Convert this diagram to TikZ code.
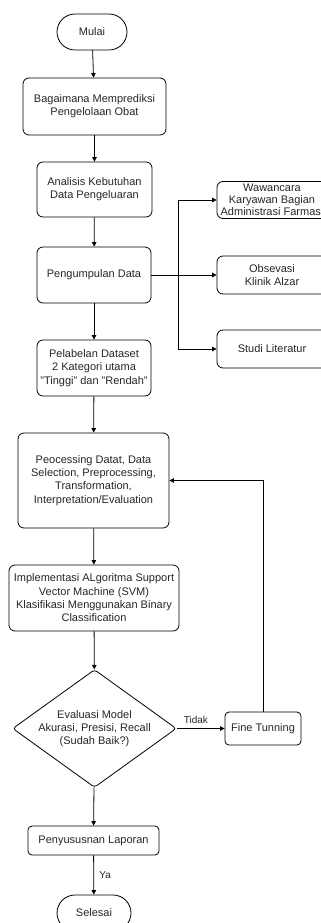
\documentclass[tikz,border=0pt]{standalone}
\usepackage{fontspec}
\setmainfont{Liberation Sans}
\usepackage{tikz}
\usetikzlibrary{arrows.meta,positioning,shapes.geometric,shapes.misc}
\tikzset{
  >={Triangle[length=4.5pt,width=4.5pt]},
  flow/.style ={x=1pt, y=-1pt, line width=0.8pt, font=\fontsize{11}{13.3}\selectfont},
  proc/.style ={draw, rounded corners=6pt, align=center, inner sep=1pt, text=black!85},
  term/.style ={draw, rounded rectangle, align=center, inner sep=1pt, text=black!85},
  dec/.style  ={draw, diamond, aspect=1.39, align=center, inner sep=0pt, text=black!85,
                minimum width=163pt, minimum height=117pt, rounded corners=3pt},
  lbl/.style  ={font=\fontsize{10}{12}\selectfont, text=black!85}
}

\begin{document}
\begin{tikzpicture}[flow]
\useasboundingbox (0,0) rectangle (321,923);
\clip (0,0) rectangle (321,923);
% main column
\node[term, minimum width=72pt, minimum height=36pt] (mulai) at (92,32) {Mulai};
\node[proc, minimum width=143pt, minimum height=57pt] (tanya) at (94.5,106.5)
  {Bagaimana Memprediksi\\Pengelolaan Obat};
\node[proc, minimum width=115pt, minimum height=55pt] (analisis) at (94.5,189.5)
  {Analisis Kebutuhan\\Data Pengeluaran};
\node[proc, minimum width=114pt, minimum height=56pt] (kumpul) at (94,275) {Pengumpulan Data};
\node[proc, minimum width=114pt, minimum height=56pt] (label) at (94,368)
  {Pelabelan Dataset\\2 Kategori utama\\"Tinggi" dan "Rendah"};
\node[proc, minimum width=151pt, minimum height=95pt] (proses) at (93.5,480.5)
  {Peocessing Datat, Data\\Selection, Preprocessing,\\Transformation,\\Interpretation/Evaluation};
\node[proc, minimum width=170pt, minimum height=66pt] (svm) at (94,598)
  {Implementasi ALgoritma Support\\Vector Machine (SVM)\\Klasifikasi Menggunakan Binary\\Classification};
\node[dec] (eval) at (94.5,728.5) {Evaluasi Model\\Akurasi, Presisi, Recall\\(Sudah Baik?)};
\node[proc, rounded corners=4pt, minimum width=131pt, minimum height=29pt] (lapor) at (93.5,840.5)
  {Penyususnan Laporan};
\node[term, minimum width=76pt, minimum height=36pt] (selesai) at (94,913) {Selesai};
% side boxes
\node[proc, minimum width=110pt, minimum height=37pt, font=\fontsize{11}{12}\selectfont] (wawan) at (272,200)
  {Wawancara\\Karyawan Bagian\\Administrasi Farmasi};
\node[proc, minimum width=110pt, minimum height=38pt] (obs) at (272,275) {Obsevasi\\Klinik Alzar};
\node[proc, minimum width=110pt, minimum height=38pt] (studi) at (272,349) {Studi Literatur};
\node[proc, rounded corners=4pt, minimum width=76pt, minimum height=33pt] (fine) at (263,728.5) {Fine Tunning};
\coordinate (cabang) at (178,275);

% connectors
\draw[->] (mulai) -- (tanya);
\draw[->] (tanya) -- (analisis);
\draw[->] (analisis) -- (kumpul);
\draw[->] (kumpul) -- (label);
\draw[->] (label) -- (proses);
\draw[->] (proses) -- (svm);
\draw[->] (svm) -- (eval);
\draw[->] (eval) -- (lapor);
\draw[->] (lapor) -- node[lbl, right=2pt] {Ya} (selesai);
\draw[->] (kumpul) -- (obs);
\draw[->] (cabang) |- (wawan.west);
\draw[->] (cabang) |- (studi.west);
\draw[->] (eval) -- node[lbl, above=1pt, pos=0.4] {Tidak} (fine);
\draw[->] (fine) |- (proses.east);
\end{tikzpicture}
\end{document}
